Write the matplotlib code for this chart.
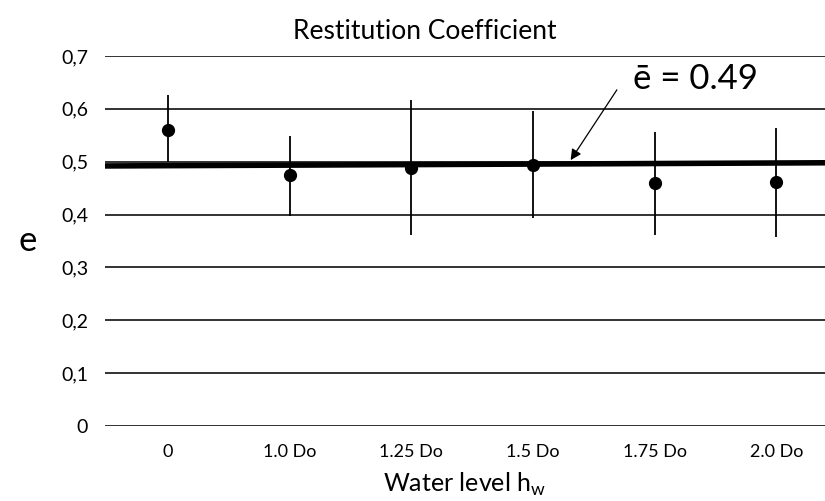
import matplotlib.pyplot as plt

# data
levels = ["0", "1.0 Do", "1.25 Do", "1.5 Do", "1.75 Do", "2.0 Do"]
e_mean = [0.56, 0.475, 0.489, 0.494, 0.459, 0.461]
e_upper = [0.626, 0.549, 0.617, 0.596, 0.556, 0.563]
e_lower = [0.50, 0.397, 0.361, 0.393, 0.362, 0.358]
trend_ends = [0.492, 0.498]
e_bar = 0.49

plt.rcParams['font.family'] = ['Lato', 'DejaVu Sans']

fig = plt.figure(figsize=(8.25, 5.01), dpi=100)
ax = fig.add_axes([0.127, 0.1497, 0.873, 0.7385])

x = list(range(len(levels)))
err_lo = [m - l for m, l in zip(e_mean, e_lower)]
err_hi = [u - m for m, u in zip(e_mean, e_upper)]

ax.set_xlim(-0.518, 5.40)
ax.set_ylim(0, 0.7)
ax.set_yticks([0, 0.1, 0.2, 0.3, 0.4, 0.5, 0.6, 0.7])
ax.set_yticklabels(["0", "0,1", "0,2", "0,3", "0,4", "0,5", "0,6", "0,7"])
ax.set_xticks(x)
ax.set_xticklabels(levels)
ax.grid(axis='y', color='#222222', lw=1.3)
ax.set_axisbelow(True)
for s in ax.spines.values():
    s.set_visible(False)
ax.tick_params(axis='x', length=0, labelsize=13, pad=13)
ax.tick_params(axis='y', length=0, labelsize=14, pad=12)

ax.plot([-0.518, 5.40], trend_ends, color='black', lw=4, zorder=2)
ax.errorbar(x, e_mean, yerr=[err_lo, err_hi], fmt='o', color='black',
            ms=8.5, elinewidth=1.3, capsize=0, zorder=3)

ax.text(3.82, 0.656, "ē = " + str(e_bar), fontsize=25, ha='left', va='center')
ax.annotate("", xy=(3.31, 0.503), xytext=(3.69, 0.636),
            arrowprops=dict(arrowstyle='-|>', color='black', lw=0.9,
                            shrinkA=0, shrinkB=0, mutation_scale=16))

ax.set_title("Restitution Coefficient", fontsize=19, pad=12, x=0.444)
ax.set_xlabel("Water level h$_\\mathregular{w}$", fontsize=18, labelpad=8)
ax.set_ylabel("e", fontsize=25, rotation=0, labelpad=24, va='center')

fig.savefig("out.png", dpi=100)
